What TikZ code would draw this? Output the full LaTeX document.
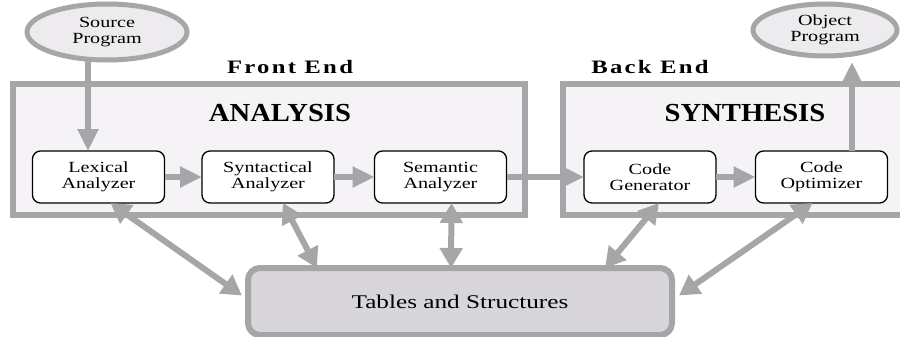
\documentclass[tikz,border=0pt]{standalone}
\usepackage{fontspec}
\setmainfont{Liberation Serif}
\newfontfamily\labelfont{Liberation Serif}[FakeStretch=1.3]
\newfontfamily\headfont{Liberation Serif}[FakeStretch=1.1]
\newfontfamily\endfont{Liberation Serif}[FakeStretch=1.3,LetterSpace=12]
\usetikzlibrary{arrows.meta,shapes.geometric}

\definecolor{framegray}{HTML}{A6A5A8}
\definecolor{framefill}{HTML}{F6F3F6}
\definecolor{progfill}{HTML}{EDEBEE}
\definecolor{tabfill}{HTML}{D8D6DA}

\tikzset{
  frame/.style={rectangle, draw=framegray, line width=6pt, fill=framefill,
    inner sep=0pt, outer sep=0pt},
  stage/.style={rectangle, draw=black, line width=1.3pt, fill=white,
    rounded corners=8pt, minimum width=132pt, minimum height=52pt,
    inner sep=0pt, outer sep=0pt, align=center,
    font=\labelfont\fontsize{15.5}{16}\selectfont},
  prog/.style={ellipse, draw=framegray, line width=5pt, fill=progfill,
    inner sep=0pt, outer sep=0pt, align=center,
    font=\labelfont\fontsize{15.5}{16}\selectfont},
  head/.style={font=\headfont\bfseries\fontsize{26}{26}\selectfont},
  endlabel/.style={font=\endfont\bfseries\fontsize{19}{19}\selectfont},
  flow/.style={draw=framegray, line width=6pt,
    -{Triangle[length=22pt,width=20pt]}},
  both/.style={draw=framegray, line width=6pt,
    {Triangle[length=20pt,width=22pt]}-{Triangle[length=20pt,width=22pt]}},
}

\begin{document}
\begin{tikzpicture}[x=1pt,y=-1pt]
  \clip (0,0) rectangle (900,337);

  % the two halves
  \node[frame, minimum width=512pt, minimum height=131pt] (front) at (269,149.5) {};
  \node[frame, minimum width=342pt, minimum height=131pt] (back) at (734,149.5) {};
  \node[endlabel] (frontlbl) at (290,67) {Front End};
  \node[endlabel] (backlbl) at (650,67) {Back End};
  \node[head] (ana) at (280,113) {ANALYSIS};
  \node[head] (syn) at (745,113) {SYNTHESIS};

  \node[prog, minimum width=160pt, minimum height=56pt] (src) at (107,32) {Source\\Program};
  \node[prog, minimum width=144pt, minimum height=52pt] (obj) at (825,30) {Object\\Program};

  \node[stage] (lex) at (98.5,177) {Lexical\\Analyzer};
  \node[stage] (par) at (268,177) {Syntactical\\Analyzer};
  \node[stage] (sem) at (440.5,177) {Semantic\\Analyzer};
  \node[stage] (gen) at (650,177) {Code\\Generator};
  \node[stage] (opt) at (821.5,177) {Code\\Optimizer};

  \node[rectangle, draw=framegray, line width=6pt, fill=tabfill, rounded corners=12pt,
    minimum width=424pt, minimum height=67pt, inner sep=0pt, outer sep=0pt,
    font=\labelfont\fontsize{19.4}{20}\selectfont] (tab) at (460,301.5) {Tables and Structures};

  \coordinate (instem) at ([xshift=-10.5pt]lex.north);
  \coordinate (outstem) at ([xshift=30.5pt]opt.north);
  \draw[flow] (instem |- src.south) -- (instem);
  \draw[flow, shorten >=6pt] (outstem) -- (outstem |- obj.south);

  \draw[flow] (lex) -- (par);
  \draw[flow] (par) -- (sem);
  \draw[flow] (sem) -- (gen);
  \draw[flow] (gen) -- (opt);

  \draw[both] ([xshift=12pt]lex.south) -- ([xshift=-6pt,yshift=6pt]tab.west);
  \draw[both] ([xshift=15pt]par.south) -- ([xshift=-143pt]tab.north);
  \draw[both] ([xshift=11pt]sem.south) -- ([xshift=-9pt]tab.north);
  \draw[both] ([xshift=9pt]gen.south) -- ([xshift=145pt]tab.north);
  \draw[both] ([xshift=-9pt]opt.south) -- ([xshift=7pt,yshift=6pt]tab.east);
\end{tikzpicture}
\end{document}
